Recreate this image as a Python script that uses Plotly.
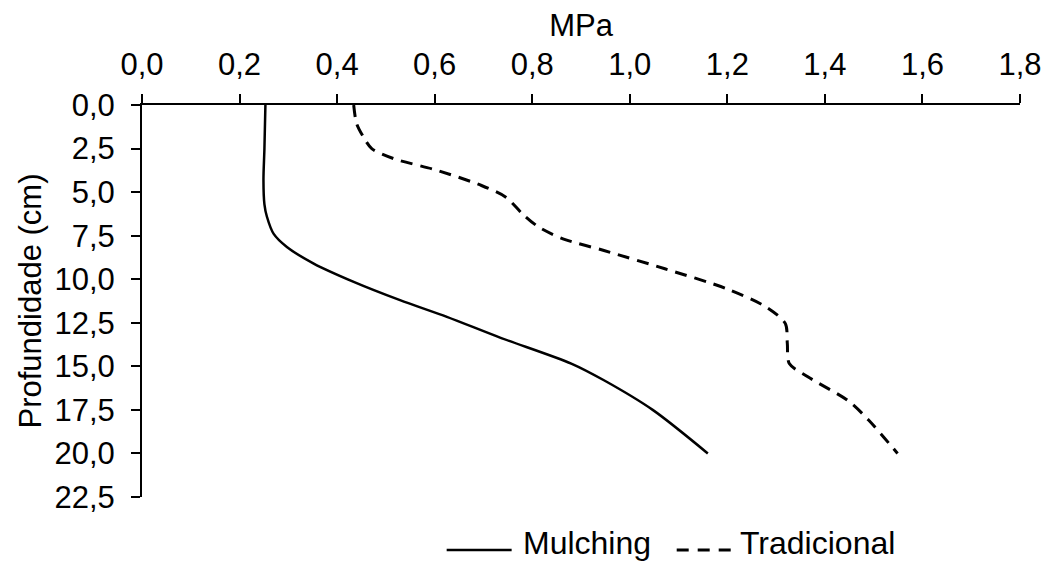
import plotly.graph_objects as go

# Depth (cm) and penetration resistance (MPa)
mulch_depth = [0, 2.5, 4.3, 5.7, 6.4, 7.4, 8.15, 9.1, 10.15, 11.2, 12.16, 13.35, 14.84, 15.8, 17.5, 20.0]
mulch_mpa = [0.253, 0.251, 0.249, 0.251, 0.256, 0.27, 0.297, 0.352, 0.434, 0.529, 0.625, 0.734, 0.88, 0.947, 1.047, 1.16]

trad_depth = [0, 1.07, 1.84, 2.5, 3.08, 3.75, 4.62, 5.29, 6.25, 7.0, 7.68, 8.35, 9.4, 10.54, 11.6, 12.55, 13.7, 14.84, 15.6, 17.0, 18.1, 20.0]
trad_mpa = [0.434, 0.44, 0.454, 0.471, 0.516, 0.605, 0.696, 0.746, 0.78, 0.813, 0.863, 0.947, 1.072, 1.198, 1.28, 1.319, 1.323, 1.327, 1.365, 1.449, 1.49, 1.549]

series_names = ["Mulching", "Tradicional"]
x_ticks = [0, 0.2, 0.4, 0.6, 0.8, 1.0, 1.2, 1.4, 1.6, 1.8]
y_ticks = [0, 2.5, 5, 7.5, 10, 12.5, 15, 17.5, 20, 22.5]

FONT = "Liberation Sans, Arial, sans-serif"
DASH = "12px,8px"

fig = go.Figure()
fig.add_trace(go.Scatter(x=mulch_mpa, y=mulch_depth, mode="lines", name=series_names[0],
                         line=dict(color="black", width=2.5, shape="spline", smoothing=0.8)))
fig.add_trace(go.Scatter(x=trad_mpa, y=trad_depth, mode="lines", name=series_names[1],
                         line=dict(color="black", width=3, dash=DASH, shape="spline", smoothing=0.8)))

# Custom legend (line samples + labels) below the plot
leg_y = -0.135
fig.add_shape(type="line", xref="paper", yref="paper", x0=0.347, x1=0.421, y0=leg_y, y1=leg_y,
              line=dict(color="black", width=2.5))
fig.add_shape(type="line", xref="paper", yref="paper", x0=0.609, x1=0.672, y0=leg_y, y1=leg_y,
              line=dict(color="black", width=3, dash="12px,9px"))
fig.add_annotation(text=series_names[0], xref="paper", yref="paper", x=0.432, y=-0.118,
                   xanchor="left", yanchor="middle", showarrow=False, font=dict(size=32))
fig.add_annotation(text=series_names[1], xref="paper", yref="paper", x=0.679, y=-0.118,
                   xanchor="left", yanchor="middle", showarrow=False, font=dict(size=32))

# page body has an 8px margin, so the figure is 8px smaller and margins shifted
fig.update_layout(
    width=1041, height=556,
    margin=dict(l=134, r=29, t=97, b=67),
    paper_bgcolor="white", plot_bgcolor="white",
    separators=",.",
    font=dict(family=FONT, size=31, color="black"),
    showlegend=False,
    xaxis=dict(side="top", range=[0, 1.8], tickvals=x_ticks, tickformat=".1f",
               showline=True, linecolor="black", linewidth=2, ticks="outside",
               ticklen=9, tickwidth=2, tickcolor="black", showgrid=False, zeroline=False,
               automargin=False, ticklabelstandoff=7,
               title=dict(text="MPa", font=dict(size=31), standoff=4),
               tickfont=dict(size=31)),
    yaxis=dict(range=[22.5, 0], tickvals=y_ticks, tickformat=".1f",
               showline=True, linecolor="black", linewidth=2, ticks="outside",
               ticklen=9, tickwidth=2, tickcolor="black", showgrid=False, zeroline=False,
               automargin=False, ticklabelstandoff=10,
               title=dict(text="Profundidade (cm)", font=dict(size=31), standoff=4),
               tickfont=dict(size=31)),
)

fig.write_html("out.html")
